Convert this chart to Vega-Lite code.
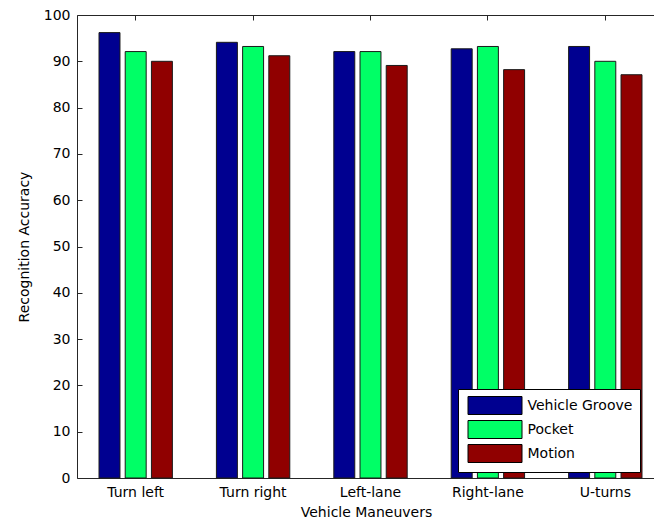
{
  "$schema": "https://vega.github.io/schema/vega-lite/v6.json",
  "autosize": "none",
  "padding": {"left": 77, "top": 15, "right": -10, "bottom": 49},
  "width": 587,
  "height": 463,
  "background": "white",
  "config": {
    "view": {"stroke": null},
    "font": "DejaVu Sans",
    "axis": {"domainColor": "#262626", "tickColor": "#262626", "labelColor": "#000000", "titleColor": "#000000", "labelFont": "DejaVu Sans", "titleFont": "DejaVu Sans", "labelFontSize": 14, "titleFontSize": 14, "titleFontWeight": "normal", "grid": false},
    "legend": {"labelFont": "DejaVu Sans", "labelFontSize": 14, "labelColor": "#000000"}
  },
  "data": {
    "values": [
      {"maneuver": "Turn left", "method": "Vehicle Groove", "value": 96.2},
      {"maneuver": "Turn left", "method": "Pocket", "value": 92.1},
      {"maneuver": "Turn left", "method": "Motion", "value": 90.0},
      {"maneuver": "Turn right", "method": "Vehicle Groove", "value": 94.1},
      {"maneuver": "Turn right", "method": "Pocket", "value": 93.2},
      {"maneuver": "Turn right", "method": "Motion", "value": 91.2},
      {"maneuver": "Left-lane", "method": "Vehicle Groove", "value": 92.1},
      {"maneuver": "Left-lane", "method": "Pocket", "value": 92.1},
      {"maneuver": "Left-lane", "method": "Motion", "value": 89.1},
      {"maneuver": "Right-lane", "method": "Vehicle Groove", "value": 92.7},
      {"maneuver": "Right-lane", "method": "Pocket", "value": 93.2},
      {"maneuver": "Right-lane", "method": "Motion", "value": 88.2},
      {"maneuver": "U-turns", "method": "Vehicle Groove", "value": 93.2},
      {"maneuver": "U-turns", "method": "Pocket", "value": 90.0},
      {"maneuver": "U-turns", "method": "Motion", "value": 87.1}
    ]
  },
  "layer": [
    {
      "mark": {"type": "bar", "stroke": "#1a1a1a", "strokeWidth": 1},
      "encoding": {
        "x": {
          "field": "maneuver", "type": "nominal",
          "sort": ["Turn left", "Turn right", "Left-lane", "Right-lane", "U-turns"],
          "scale": {"paddingInner": 0.375, "paddingOuter": 0.1875},
          "axis": {"orient": "bottom", "title": "Vehicle Maneuvers", "labelAngle": 0, "tickSize": -5, "labelPadding": 12, "titlePadding": 6, "domainWidth": 1, "titleX": 289}
        },
        "xOffset": {
          "field": "method", "type": "nominal",
          "sort": ["Vehicle Groove", "Pocket", "Motion"],
          "scale": {"paddingInner": 0.2, "paddingOuter": 0}
        },
        "y": {
          "field": "value", "type": "quantitative",
          "scale": {"domain": [0, 100], "nice": false},
          "axis": {"orient": "left", "title": "Recognition Accuracy", "values": [0, 10, 20, 30, 40, 50, 60, 70, 80, 90, 100], "tickSize": -5, "labelPadding": 12, "titlePadding": 12}
        },
        "color": {
          "field": "method", "type": "nominal",
          "sort": ["Vehicle Groove", "Pocket", "Motion"],
          "scale": {"domain": ["Vehicle Groove", "Pocket", "Motion"], "range": ["#000090", "#00FF66", "#900000"]},
          "legend": {
            "title": null,
            "orient": "none",
            "legendX": 381,
            "legendY": 374,
            "fillColor": "white",
            "strokeColor": "#000000",
            "padding": 7,
            "symbolType": "M-3,-1H3V1H-3Z",
            "symbolSize": 324,
            "symbolOffset": 20.5,
            "symbolStrokeColor": "#000000",
            "symbolStrokeWidth": 1,
            "symbolOpacity": 1,
            "rowPadding": 1,
            "labelOffset": 23
          }
        }
      }
    },
    {
      "mark": {"type": "tick", "opacity": 0},
      "encoding": {
        "x": {
          "field": "maneuver", "type": "nominal",
          "sort": ["Turn left", "Turn right", "Left-lane", "Right-lane", "U-turns"],
          "axis": {"orient": "top", "title": null, "labels": false, "tickSize": -5}
        }
      }
    }
  ]
}
